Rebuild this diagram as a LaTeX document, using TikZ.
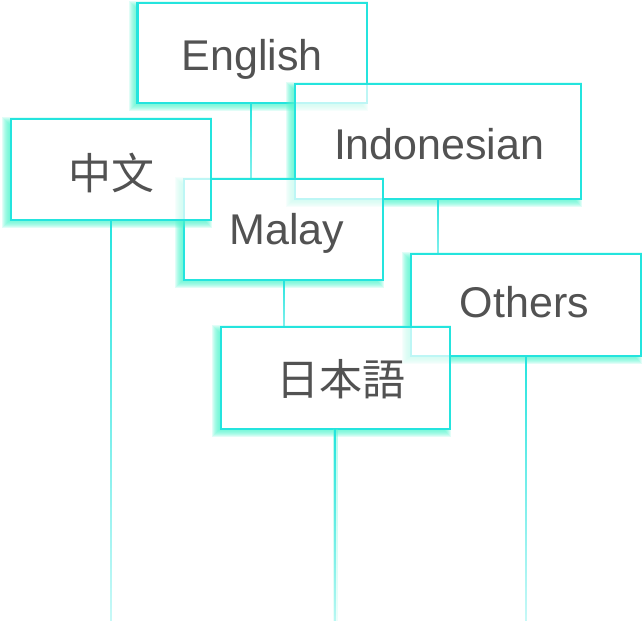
\documentclass[tikz,border=0pt]{standalone}
\usepackage{fontspec}
\setmainfont{Liberation Sans}
\newfontfamily\cjksc{Noto Sans CJK SC}
\newfontfamily\cjkjp{Noto Sans CJK JP}
\usetikzlibrary{fadings}
\definecolor{edge}{RGB}{36,228,222}
\definecolor{mint}{RGB}{80,245,205}
\definecolor{txt}{RGB}{82,82,82}
\tikzfading[name=fadedown, top color=transparent!0, bottom color=transparent!75]
\tikzfading[name=fadeshort, top color=transparent!0, bottom color=transparent!45]
\tikzset{
  langbox/.style={draw=edge, line width=2.2pt, fill=white, fill opacity=0.7, inner sep=0pt, outer sep=0pt},
  lbl/.style={text=txt, inner sep=0pt, font=\fontsize{43}{50}\selectfont},
  conn/.style={draw=edge, line width=2pt},
}
% glow (offset blurred shadow), drawn only outside the box
\newcommand{\glowrect}[4]{%
  \begin{scope}
    \clip (-50,-50) -- (700,-50) -- (700,700) -- (-50,700) -- cycle
          (#1,#2) -- (#1,#4) -- (#3,#4) -- (#3,#2) -- cycle;
    \foreach \r in {5,4,3,2,1,0,-1,-2,-3}{
      \fill[mint, fill opacity=0.17] ({#1-4-(\r)},{#2+3-(\r)}) rectangle ({#3-4+(\r)},{#4+3+(\r)});
    }
  \end{scope}}
\newcommand{\langbox}[5]{%
  \glowrect{#2}{#3}{#4}{#5}%
  \node[langbox, minimum width={#4-#2}, minimum height={#5-#3}] (#1) at ({(#2+#4)/2},{(#3+#5)/2}) {};}
\begin{document}
\begin{tikzpicture}[x=1pt, y=-1pt]
\useasboundingbox (0,0) rectangle (642,621);
\coordinate (bot) at (0,621);

% boxes in stacking order
\langbox{en}{137.5}{2.7}{366.7}{102.7}
\langbox{id}{295}{84.3}{581}{199.3}
\langbox{ma}{184}{179}{383}{280}
\langbox{zh}{10.7}{119}{211}{220}
\langbox{ot}{411}{254.3}{640.7}{356}
\langbox{ja}{220.7}{326.7}{450}{428.7}

% connectors
\draw[conn, path fading=fadeshort] ([xshift=-1pt]en.south) -- ([xshift=-1pt]en.south |- ma.north);
\draw[conn, path fading=fadeshort] (id.south) -- (id.south |- ot.north);
\draw[conn, path fading=fadeshort] (ma.south) -- (ma.south |- ja.north);
\draw[conn, path fading=fadedown] (zh.south) -- (zh.south |- bot);
\draw[draw=mint, line width=5pt, opacity=0.4, path fading=fadedown] (ja.south) -- (ja.south |- bot);
\draw[conn, path fading=fadedown] (ja.south) -- (ja.south |- bot);
\draw[conn, path fading=fadedown] (ot.south) -- (ot.south |- bot);

% labels
\node[lbl, anchor=base] (en-t) at (252.2,70) {English};
\node[lbl, anchor=base] (id-t) at (439.2,159) {Indonesian};
\node[lbl, anchor=base] (ma-t) at (287,244) {Malay};
\node[lbl] (zh-t) at (111.7,172.5) {\cjksc 中文};
\node[lbl, anchor=base] (ot-t) at (524.3,317.3) {Others};
\node[lbl] (ja-t) at (340.8,378.8) {\cjkjp 日本語};
\end{tikzpicture}
\end{document}
